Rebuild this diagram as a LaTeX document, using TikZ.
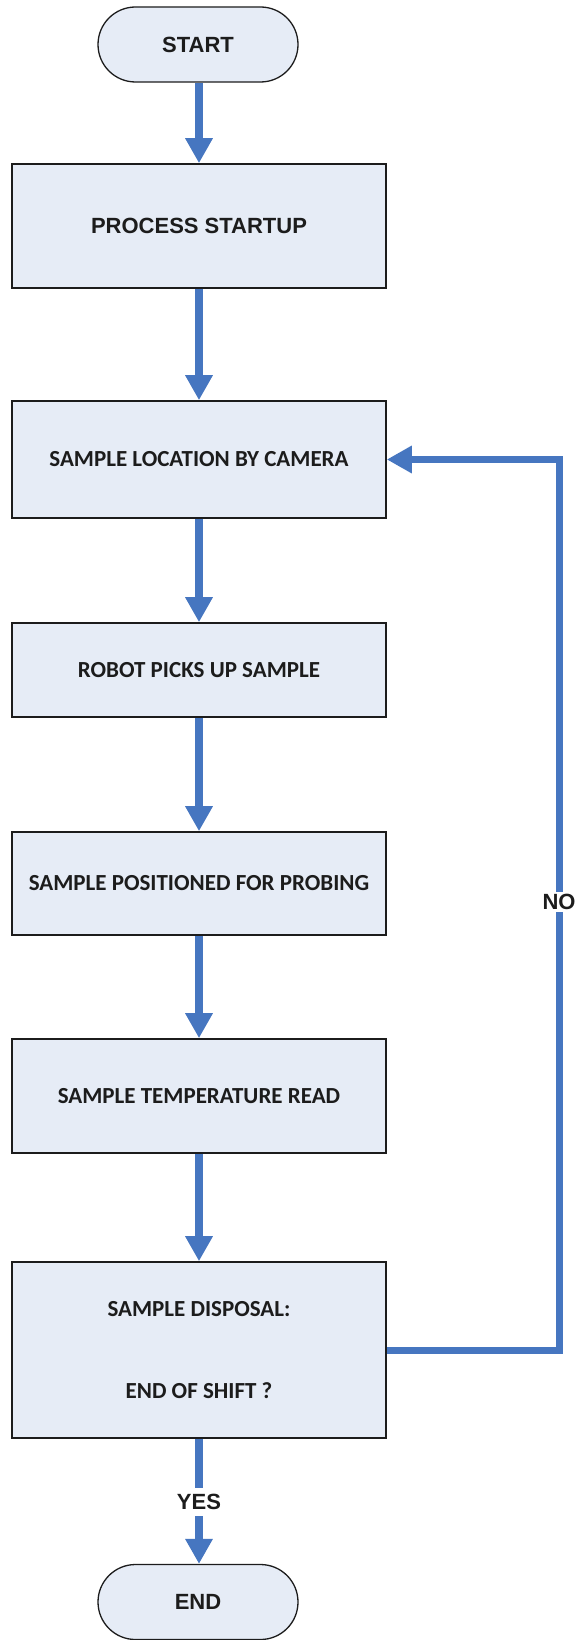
\documentclass[tikz,border=0pt]{standalone}
\usepackage{fontspec}
\newfontfamily\headfont{Liberation Sans}
\newfontfamily\stepfont{Carlito}
\usetikzlibrary{arrows.meta,shapes.misc}
\definecolor{boxfill}{RGB}{230,236,246}
\definecolor{flowblue}{RGB}{70,118,192}
\definecolor{ink}{RGB}{28,28,28}
\begin{document}
\begin{tikzpicture}[x=1pt,y=-1pt,
  terminal/.style={draw=ink, line width=1.3pt, fill=boxfill, rounded rectangle,
    minimum width=200pt, minimum height=75pt, inner sep=0pt, text=ink,
    font=\headfont\bfseries\fontsize{22}{26}\selectfont},
  stepbox/.style={draw=ink, line width=1.6pt, fill=boxfill, rectangle,
    minimum width=374pt, inner sep=0pt, text=ink,
    font=\stepfont\bfseries\fontsize{23}{27}\selectfont},
  flow/.style={draw=flowblue, line width=7.5pt,
    -{Triangle[width=26pt,length=25pt]}},
  tag/.style={fill=white, text=ink, inner xsep=1pt,
    font=\headfont\bfseries\fontsize{22}{26}\selectfont}]

% page area
\fill[white] (0,0) rectangle (580,1640);
\useasboundingbox (0,0) rectangle (580,1640);

% terminals and process steps
\node[terminal] (start) at (198,44.5) {START};
\node[stepbox, minimum height=124pt, font=\headfont\bfseries\fontsize{22}{26}\selectfont]
  (startup) at (199,226) {PROCESS STARTUP};
\node[stepbox, minimum height=117pt] (camera) at (199,459.5) {SAMPLE LOCATION BY CAMERA};
\node[stepbox, minimum height=94pt] (robot) at (199,670) {ROBOT PICKS UP SAMPLE};
\node[stepbox, minimum height=103pt] (probe) at (199,883.5) {SAMPLE POSITIONED FOR PROBING};
\node[stepbox, minimum height=114pt] (temp) at (199,1096) {SAMPLE TEMPERATURE READ};
\node[stepbox, minimum height=176pt, align=center,
  font=\stepfont\bfseries\fontsize{23}{82}\selectfont]
  (disposal) at (199,1350) {SAMPLE DISPOSAL:\\END OF SHIFT ?};
\node[terminal] (finish) at (198,1602) {END};

% main flow
\draw[flow] (start.south -| startup.north) -- (startup.north);
\draw[flow] (startup) -- (camera);
\draw[flow] (camera) -- (robot);
\draw[flow] (robot) -- (probe);
\draw[flow] (probe) -- (temp);
\draw[flow] (temp) -- (disposal);
\draw[flow] (disposal.south) -- (disposal.south |- finish.north);
\node[tag, inner ysep=6pt] (yes) at (199,1502) {YES};

% loop back when the shift is not over
\draw[flow, line width=7pt] (disposal.east) -- ++(173,0) |- (camera.east);
\node[tag, inner ysep=2pt] (no) at (559,902) {NO};
\end{tikzpicture}
\end{document}
